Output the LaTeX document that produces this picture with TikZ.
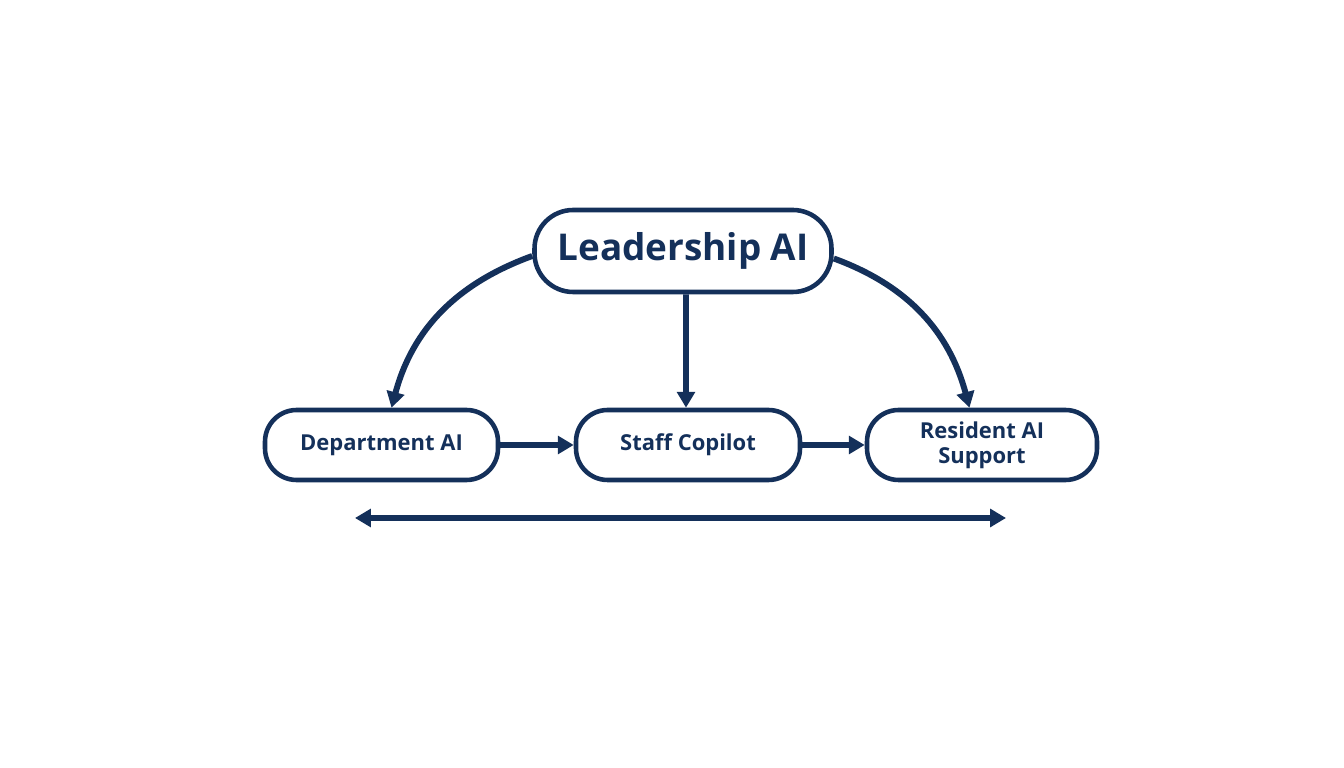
\documentclass[tikz,border=0pt]{standalone}
\usepackage{fontspec}
\setmainfont{Open Sans}
\usetikzlibrary{arrows.meta}
\usetikzlibrary{positioning}
\definecolor{navy}{HTML}{14305A}
\tikzset{
	box/.style={draw=navy, line width=2.6pt, rounded corners=18pt, align=center, text=navy, font=\bfseries\fontsize{12.5}{14}\selectfont, minimum height=1.4cm, inner sep=2pt},
	link/.style={draw=navy, line width=3.4pt, -{Triangle[length=9pt,width=10pt]}}
}
\begin{document}
\begin{tikzpicture}
			\useasboundingbox (0,0) rectangle (26.88,15.36);
			\node [box, minimum width=5.94cm, minimum height=1.64cm, rounded corners=22pt, font=\bfseries\fontsize{21}{23}\selectfont] (lead) at (13.66,10.34) {Leadership AI};
			\node [box, minimum width=4.66cm] (dept) at (7.63,6.46) {Department AI};
			\node [box, minimum width=4.48cm] (staff) at (13.76,6.46) {Staff Copilot};
			\node [box, minimum width=4.6cm] (res) at (19.64,6.46) {Resident AI\\Support};
			\coordinate (span l) at (7.1,5.0);
			\coordinate (span r) at (20.12,5.0);
			\draw [link] (lead.west) ++(0,-0.1) to [out=200, in=75] ([xshift=0.2cm]dept.north);
			\draw [link] (lead.east) ++(0,-0.15) to [out=-20, in=105] ([xshift=-0.25cm]res.north);
			\draw [link] ([xshift=0.06cm]lead.south) -- ([xshift=-0.04cm]staff.north);
			\draw [link] (dept) -- (staff);
			\draw [link] (staff) -- (res);
			\draw [link, {Triangle[length=9pt,width=10pt]}-{Triangle[length=9pt,width=10pt]}] (span l) -- (span r);
	\end{tikzpicture}
\end{document}
